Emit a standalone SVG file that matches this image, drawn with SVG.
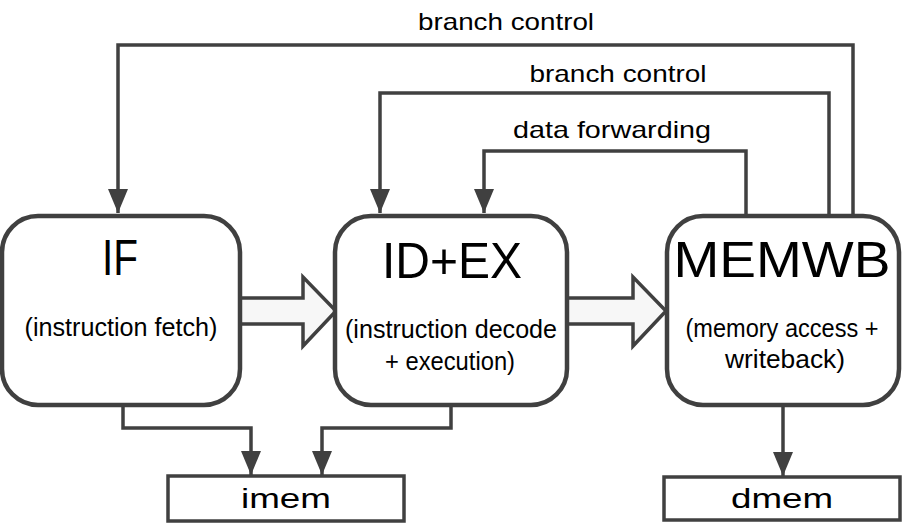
<svg xmlns="http://www.w3.org/2000/svg" width="905" height="527" viewBox="0 0 905 527">
<style>
.box{fill:#fff;stroke:#404040;stroke-width:4.5}
.mem{fill:#fff;stroke:#404040;stroke-width:3.5}
.line{fill:none;stroke:#404040;stroke-width:3.5}
.big{font-family:"Liberation Sans",Arial,sans-serif;font-size:50px;fill:#000;text-anchor:middle}
.sub{font-family:"Liberation Sans",Arial,sans-serif;font-size:25px;fill:#000;text-anchor:middle}
.lbl{font-family:"Liberation Sans",Arial,sans-serif;font-size:24px;fill:#000;text-anchor:middle}
.memt{font-family:"Liberation Sans",Arial,sans-serif;font-size:28px;fill:#000;text-anchor:middle}
.blk{fill:#f7f7f7;stroke:#404040;stroke-width:3.5;stroke-linejoin:miter}
</style>
<defs>
<marker id="ah" markerWidth="26" markerHeight="20" refX="24" refY="10" orient="auto" markerUnits="userSpaceOnUse" viewBox="0 0 26 20">
<path d="M0,0 L24,10 L0,20 Z" fill="#404040"/>
</marker>
</defs>
<rect width="905" height="527" fill="#fff"/>
<g id="connectors">
<path class="line" d="M853,216 V45 H118 V213" marker-end="url(#ah)"/>
<path class="line" d="M829,216 V93 H380 V213" marker-end="url(#ah)"/>
<path class="line" d="M746,216 V151 H484 V213" marker-end="url(#ah)"/>
<path class="line" d="M123,405 V428 H251 V475" marker-end="url(#ah)"/>
<path class="line" d="M451,405 V428 H322 V475" marker-end="url(#ah)"/>
<path class="line" d="M783,405 V476" marker-end="url(#ah)"/>
<path class="blk" d="M236,298 H303 V277 L336,311 L303,346 V324 H236 Z"/>
<path class="blk" d="M566,298 H633 V277 L666,311 L633,346 V324 H566 Z"/>
</g>
<g id="labels">
<text class="lbl" x="506" y="30" textLength="176" lengthAdjust="spacingAndGlyphs">branch control</text>
<text class="lbl" x="618" y="82" textLength="177" lengthAdjust="spacingAndGlyphs">branch control</text>
<text class="lbl" x="612" y="138" textLength="198" lengthAdjust="spacingAndGlyphs">data forwarding</text>
</g>
<g id="IF">
<rect class="box" x="2" y="216" width="238" height="189" rx="36"/>
<text class="big" x="120" y="275" textLength="36" lengthAdjust="spacingAndGlyphs">IF</text>
<text class="sub" x="121" y="336" textLength="193" lengthAdjust="spacingAndGlyphs">(instruction fetch)</text>
</g>
<g id="IDEX">
<rect class="box" x="335" y="216" width="232" height="189" rx="36"/>
<text class="big" x="452" y="278" textLength="140" lengthAdjust="spacingAndGlyphs">ID+EX</text>
<text class="sub" x="451" y="338" textLength="212" lengthAdjust="spacingAndGlyphs">(instruction decode</text>
<text class="sub" x="450" y="370" textLength="130" lengthAdjust="spacingAndGlyphs">+ execution)</text>
</g>
<g id="MEMWB">
<rect class="box" x="667" y="216" width="232" height="189" rx="36"/>
<text class="big" x="782" y="277" textLength="217" lengthAdjust="spacingAndGlyphs">MEMWB</text>
<text class="sub" x="782" y="337" textLength="193" lengthAdjust="spacingAndGlyphs">(memory access +</text>
<text class="sub" x="785" y="368" textLength="120" lengthAdjust="spacingAndGlyphs">writeback)</text>
</g>
<g id="imem">
<rect class="mem" x="168" y="476" width="236" height="45"/>
<text class="memt" x="286" y="508" textLength="90" lengthAdjust="spacingAndGlyphs">imem</text>
</g>
<g id="dmem">
<rect class="mem" x="664" y="477" width="236" height="43"/>
<text class="memt" x="782" y="508" textLength="102" lengthAdjust="spacingAndGlyphs">dmem</text>
</g>
</svg>
